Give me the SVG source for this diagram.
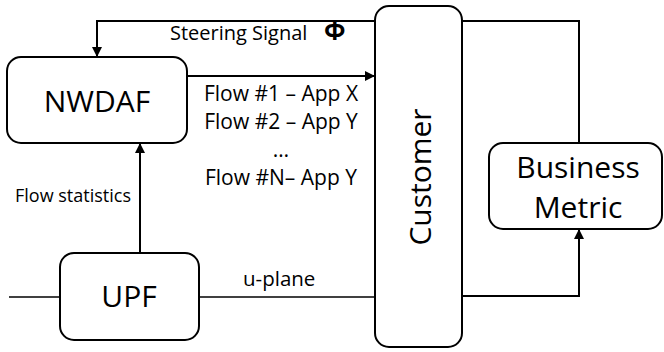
<svg xmlns="http://www.w3.org/2000/svg" width="664" height="352" viewBox="0 0 664 352">
<style>
.box{fill:#fff;stroke:#000;stroke-width:2}
.ln{fill:none;stroke:#000;stroke-width:2}
.thin{fill:none;stroke:#000;stroke-width:1.3}
text{font-family:"Open Sans","Liberation Sans",sans-serif;fill:#000}
.big{font-size:30px;text-anchor:middle}
.flow{font-size:21px;text-anchor:middle}
</style>
<defs>
<marker id="ah" markerWidth="10" markerHeight="10" refX="10" refY="5" orient="auto" markerUnits="userSpaceOnUse">
<path d="M0,0 L10,5 L0,10 Z" fill="#000"/>
</marker>
</defs>
<g id="connectors">
<polyline class="ln" points="375,21 97,21 97,57" marker-end="url(#ah)"/>
<polyline class="ln" points="462,21 579,21 579,143"/>
<line class="ln" x1="187" y1="76" x2="375" y2="76" marker-end="url(#ah)"/>
<line class="ln" x1="140" y1="253" x2="140" y2="143" marker-end="url(#ah)"/>
<line class="thin" x1="9" y1="297" x2="60" y2="297"/>
<line class="thin" x1="199" y1="297" x2="375" y2="297"/>
<polyline class="ln" points="462,296 579,296 579,229" marker-end="url(#ah)"/>
<text font-size="20" x="170" y="40">Steering Signal</text>
<text font-size="25" font-weight="bold" font-family="Liberation Sans, sans-serif" x="324" y="40">Φ</text>
<text class="flow" x="281" y="101">Flow #1 – App X</text>
<text class="flow" x="281" y="129">Flow #2 – App Y</text>
<text class="flow" x="281" y="157">…</text>
<text class="flow" x="281" y="185">Flow #N– App Y</text>
<text font-size="18" x="15" y="202">Flow statistics</text>
<text font-size="20.5" x="243" y="286">u-plane</text>
</g>
<g id="nwdaf">
<rect class="box" x="7" y="57" width="180" height="86" rx="14"/>
<text class="big" font-size="31.5" x="97" y="112">NWDAF</text>
</g>
<g id="customer">
<rect class="box" x="375" y="6" width="87" height="341" rx="14"/>
<text class="big" transform="translate(431,177) rotate(-90)" x="0" y="0">Customer</text>
</g>
<g id="business">
<rect class="box" x="489" y="143" width="173" height="86" rx="14"/>
<text class="big" font-size="29" x="578" y="178">Business</text>
<text class="big" font-size="29" x="578" y="218">Metric</text>
</g>
<g id="upf">
<rect class="box" x="60" y="253" width="139" height="87" rx="14"/>
<text class="big" x="129" y="307">UPF</text>
</g>
</svg>
